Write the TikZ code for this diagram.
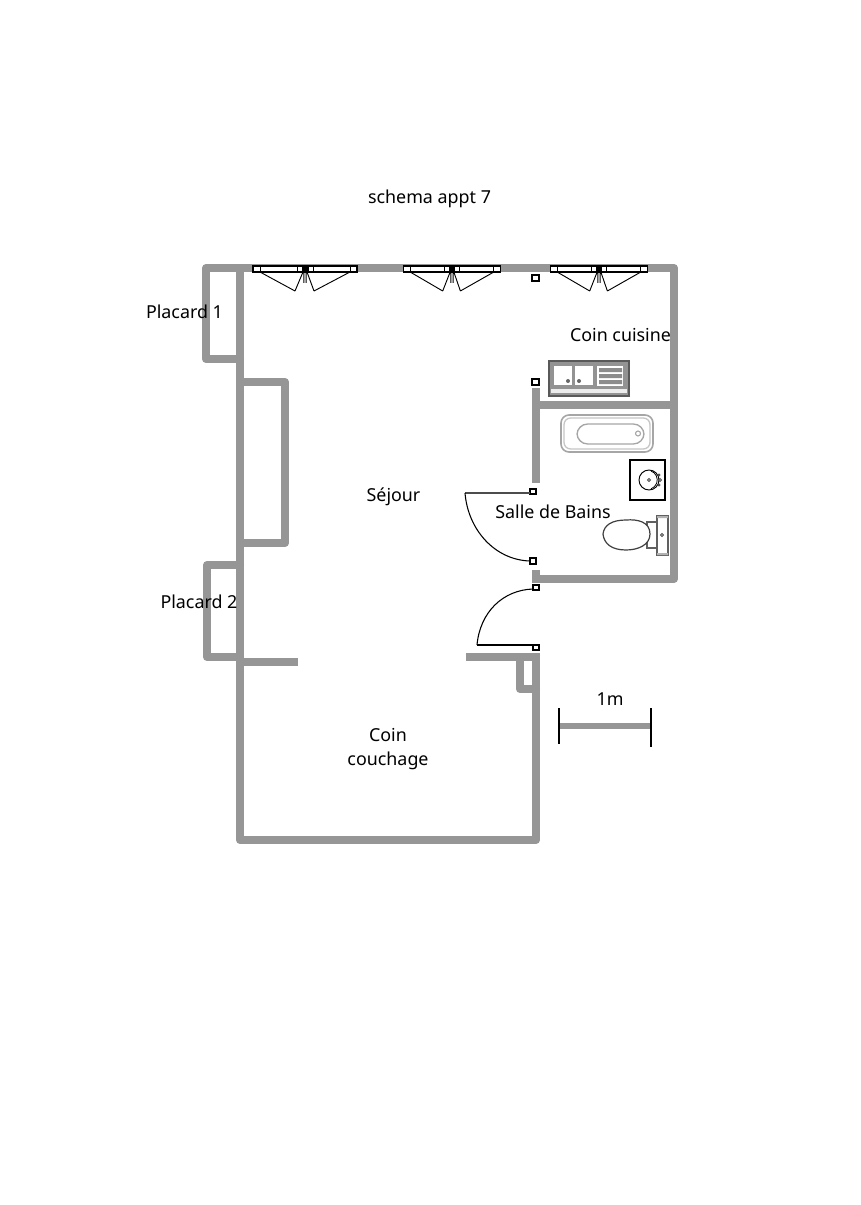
\documentclass[tikz,border=0pt]{standalone}
\usepackage{fontspec}
\setmainfont{Noto Sans}
\definecolor{wallc}{RGB}{150,150,150}
\tikzset{
  wall/.style={draw=wallc,line width=6pt,line join=round,line cap=round},
  wallb/.style={draw=wallc,line width=6pt,line cap=butt},
  thin line/.style={draw=black,line width=0.8pt},
  post/.style={draw=black,fill=white,line width=0.8pt},
  label/.style={font=\fontsize{13.4pt}{18pt}\selectfont,align=center,inner sep=0pt,text=black},
  fixture/.style={draw=gray!75!black,line width=0.9pt,fill=white}
}
\newcommand{\fenetre}[2]{%
  \begin{scope}[shift={(#1,269)},xscale=#2]
    \draw[post] (-52,-3) rectangle (52,3);
    \draw[line width=1.3pt] (-52,-3) -- (52,-3);
    \draw[line width=0.6pt] (-45,-3) -- (-45,3) (-8,-3) -- (-8,3) (8,-3) -- (8,3) (45,-3) -- (45,3);
    \fill[black] (-3.5,-3) rectangle (3.5,3);
    \draw[line width=0.7pt] (-45,3) -- (-10,22) (45,3) -- (9,22)
      (-2,3) -- (-10,22) (2,3) -- (9,22) (-1.2,3) -- (-1.2,14) (1.2,3) -- (1.2,14);
  \end{scope}}
\begin{document}
\begin{tikzpicture}[x=0.75pt,y=-0.75pt]
\useasboundingbox (0,0) rectangle (860,1205);
\fill[white] (0,0) rectangle (860,1205);
% walls
\draw[wall] (240,359) -- (206,359) -- (206,268) -- (674,268) -- (674,579) -- (536,579);
\draw[wallb] (536,583) -- (536,570);
\draw[wallb] (240,268) -- (240,840);
\draw[wall] (240,840) -- (536,840);
\draw[wallb] (536,840) -- (536,653);
\draw[wallb] (536,405) -- (674,405);
\draw[wallb] (536,388) -- (536,483);
\draw[wall] (240,382) -- (285,382) -- (285,543) -- (240,543);
\draw[wall] (240,565) -- (207,565) -- (207,657) -- (240,657);
\draw[wallb] (240,662) -- (298,662);
\draw[wallb] (466,657) -- (536,657);
\draw[wall] (520,657) -- (520,689) -- (536,689);
% windows
\fenetre{305}{1}
\fenetre{452}{0.93}
\fenetre{599}{0.93}
% posts
\draw[post] (532,275) rectangle (539,281);
\draw[post] (532,379) rectangle (539,385);
\draw[post] (530,489) rectangle (536,494);
\draw[post] (530,558) rectangle (536,564);
\draw[post] (533,585) rectangle (539,590);
\draw[post] (533,645) rectangle (539,650);
% doors
\draw[draw=black!70,line width=1pt] (465,493) -- (530,493);
\draw[thin line] (465,493) .. controls (468,530) and (495,560) .. (530,561);
\draw[thin line] (477,645) -- (533,645);
\draw[thin line] (477,645) .. controls (480,612) and (503,590) .. (533,589);
% kitchen sink
\draw[draw=black!65,fill=gray!85,line width=0.9pt] (549,361) rectangle (629,396);
\fill[white!85!gray] (551,389) rectangle (627,393);
\fill[white] (554,366) rectangle (572,385);
\fill[white] (575,366) rectangle (593,385);
\fill[white] (597,366) rectangle (623,386);
\fill[gray!90] (599,368) rectangle (622,372) (599,374) rectangle (622,378) (599,380) rectangle (622,384);
\fill[black!60] (568,381) circle (2) (579,381) circle (2);
% bath
\draw[draw=gray!70,fill=white,line width=1.2pt,rounded corners=6] (561,415) rectangle (653,452);
\draw[draw=gray!45,line width=1pt,rounded corners=5] (564,418) rectangle (650,449);
\draw[draw=gray!70,line width=1pt,rounded corners=8] (577,424) rectangle (644,444);
\draw[draw=gray!70,line width=0.8pt] (638,433.5) circle (2.5);
% washbasin
\draw[draw=black,line width=1.2pt] (630,460) rectangle (665,500);
\draw[line width=0.7pt] (649,480) circle (10);
\draw[line width=0.6pt] (651,471) arc (-70:70:9.5);
\draw[draw=black!70,line width=0.6pt] (649,480) circle (1.5) (660,480) circle (1.5) (659,475) circle (1) (659,485) circle (1);
% toilet
\draw[fixture] (647,522) rectangle (658,548);
\draw[fixture] (657,516) rectangle (668,555);
\fill[gray!60] (657,516) rectangle (668,518) (657,553) rectangle (668,555);
\draw[draw=black!70,line width=0.6pt] (662,535) circle (1.5);
\draw[draw=black!75,fill=white,line width=0.9pt] (603,534) .. controls (604,525) and (612,520) .. (626,520) .. controls (638,519) and (650,522) .. (650,534) .. controls (650,545) and (638,550) .. (626,550) .. controls (612,550) and (604,544) .. (603,534) -- cycle;
% scale
\draw[draw=wallc,line width=5pt] (559,726) -- (651,726);
\draw[line width=1.2pt] (559,708) -- (559,744);
\draw[line width=1.2pt] (651,708) -- (651,747);
% labels
\node[label] (title) at (429.5,199) {schema appt 7};
\node[label] (placardun) at (184.5,312) {Placard 1};
\node[label] (placarddeux) at (199,602) {Placard 2};
\node[label] (cuisine) at (620.5,335) {Coin cuisine};
\node[label] (sejour) at (393.5,497) {Séjour};
\node[label] (bains) at (553,512) {Salle de Bains};
\node[label] (couchage) at (388,749) {Coin\\couchage};
\node[label] (metre) at (610,699) {1m};
\end{tikzpicture}
\end{document}
